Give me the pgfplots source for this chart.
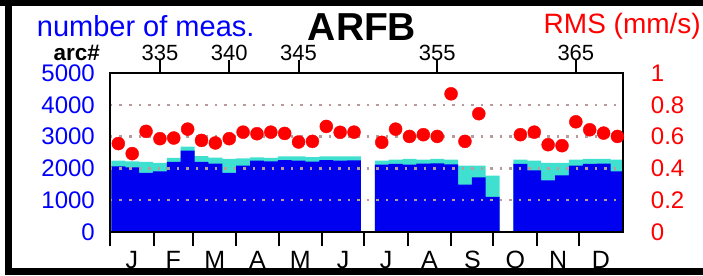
\documentclass[border=0pt]{standalone}
\usepackage{fontspec}
\setmainfont{Liberation Sans}
\usepackage{pgfplots}
\pgfplotsset{compat=1.18}
\definecolor{barblue}{RGB}{0,0,240}
\definecolor{barturq}{RGB}{64,224,208}
\definecolor{gridc}{RGB}{185,155,155}
\newcommand{\fs}[1]{\fontsize{#1bp}{#1bp}\selectfont}
\begin{document}
\begin{tikzpicture}[x=1bp,y=1bp]
\pgfplotsset{
  base/.style={
    scale only axis, width=512.7bp, height=159bp,
    at={(0,0)}, anchor=south west,
    xmin=331.4, xmax=368.38,
    /pgf/number format/assume math mode=true,
    axis line style={line width=2bp, black, -},
    every tick/.style={line width=2bp, black},
  }
}
\begin{axis}[base,
  ymin=0, ymax=5000,
  axis on top,
  xtick={332.97,335.96,338.95,342.04,345.13,348.22,351.31,354.45,357.54,360.63,363.72,366.81},
  xticklabels={J,F,M,A,M,J,J,A,S,O,N,D},
  xtick pos=bottom,
  major tick length=0pt,
  extra x ticks={331.4,334.54,337.38,340.52,343.56,346.70,349.74,352.88,356.02,359.06,362.20,365.24},
  extra x tick labels={},
  extra x tick style={major tick length=14bp, tick align=outside, grid=none},
  xticklabel style={font=\fs{25}, anchor=base, yshift=-36bp},
  ytick={1000,2000,3000,4000},
  extra y ticks={0,5000},
  extra y tick style={grid=none},
  ytick pos=left,
  yticklabel style={font=\fs{24}, text=blue, anchor=east, inner sep=0pt, xshift=-15bp},
  scaled y ticks=false,
  /pgf/number format/1000 sep={},
  ymajorgrids,
  grid style={gridc, line width=2.5bp, dash pattern=on 2.5bp off 7bp},
]
\addplot[ybar, bar shift=0pt, bar width=1, fill=barturq, draw=none] coordinates {
(332,2244) (333,2223) (334,2202) (335,2170) (336,2328) (337,2683) (338,2390) (339,2338)
(340,2296) (341,2315) (342,2347) (343,2328) (344,2378) (345,2378) (346,2358) (347,2378)
(348,2378) (349,2378) (351,2244) (352,2275) (353,2296) (354,2275) (355,2296) (356,2275)
(357,2087) (358,2087) (359,1774) (361,2275) (362,2244) (363,2170) (364,2170) (365,2275)
(366,2296) (367,2296) (368,2275)};
\addplot[ybar, bar shift=0pt, bar width=1, fill=barblue, draw=none] coordinates {
(332,2066) (333,2035) (334,1856) (335,1908) (336,2202) (337,2558) (338,2202) (339,2150)
(340,1856) (341,2088) (342,2243) (343,2222) (344,2264) (345,2243) (346,2212) (347,2264)
(348,2243) (349,2254) (351,2118) (352,2139) (353,2118) (354,2150) (355,2160) (356,2128)
(357,1491) (358,1721) (359,1105) (361,2139) (362,1941) (363,1627) (364,1784) (365,2088)
(366,2139) (367,2150) (368,1908)};
\end{axis}
\begin{axis}[base,
  ymin=0, ymax=1,
  axis x line*=top, axis y line*=right,
  xtick={335,340,345,355,365},
  tick align=outside,
  major tick length=13bp,
  xticklabel style={font=\fs{22}, anchor=base, yshift=-0.7bp},
  ytick={0,0.2,0.4,0.6,0.8,1},
  ytick style={draw=none},
  yticklabel style={font=\fs{24}, text=red, anchor=west, inner sep=0pt, xshift=15bp},
  yticklabel={\pgfmathprintnumber[fixed]{\tick}},
]
\addplot[only marks, mark=*, mark size=6.5bp, red, mark options={draw=none, fill=red}] coordinates {
(332,0.556) (333,0.493) (334,0.633) (335,0.587) (336,0.591) (337,0.647) (338,0.576) (339,0.560)
(340,0.587) (341,0.628) (342,0.618) (343,0.628) (344,0.620) (345,0.566) (346,0.570) (347,0.664)
(348,0.627) (349,0.628) (351,0.564) (352,0.647) (353,0.601) (354,0.612) (355,0.601) (356,0.869)
(357,0.570) (358,0.744) (361,0.612) (362,0.628) (363,0.549) (364,0.543) (365,0.693) (366,0.643)
(367,0.622) (368,0.601)};
\end{axis}
\node[anchor=base west, text=blue, font=\fs{29}, inner sep=0pt] at (-73.3,196) {number of meas.};
\node[anchor=base, font=\fs{39}\bfseries, inner sep=0pt] at (252,192) {ARFB};
\node[anchor=base east, text=red, font=\fs{28}, inner sep=0pt] at (591,198.7) {RMS (mm/s)};
\node[anchor=base east, font=\fs{22.5}\bfseries, inner sep=0pt] at (-10,172) {arc\#};
\fill[black] (-110,226) rectangle (593,232);
\fill[black] (-105,-43) rectangle (-98,232);
\fill[black] (-105,-43) rectangle (593,-36);
\pgfresetboundingbox
\useasboundingbox (-110,-43) rectangle (593,232);
\end{tikzpicture}
\end{document}
